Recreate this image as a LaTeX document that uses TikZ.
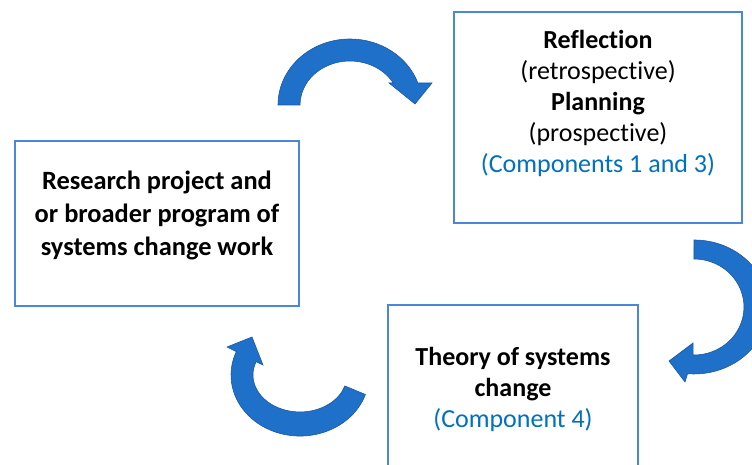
\documentclass[tikz,border=0pt]{standalone}
\usepackage{fontspec}
\setmainfont[Ligatures=NoCommon]{Carlito}
\definecolor{boxblue}{RGB}{74,134,222}
\definecolor{arrowblue}{RGB}{30,112,200}
\definecolor{arrowedge}{RGB}{28,88,165}
\definecolor{compblue}{RGB}{0,112,192}
\tikzstyle{stagebox}=[rectangle, draw=boxblue, line width=1.8pt, fill=white]
\tikzstyle{stagetext}=[align=center, inner sep=0pt]
\tikzstyle{cyclearrow}=[fill=arrowblue, draw=arrowedge, line width=0.6pt, line join=miter]
\newcommand{\comp}[1]{\textcolor{compblue}{#1}}

\begin{document}
\begin{tikzpicture}[x=1pt, y=1pt]
                \useasboundingbox (0,0) rectangle (752,465);
                \clip (0,0) rectangle (752,465);
                % boxes
                \node[stagebox, minimum width=284pt, minimum height=165pt] (proj) at (157, 241.5) {};
                \node[stagebox, minimum width=288pt, minimum height=211pt] (refl) at (598, 347.5) {};
                \node[stagebox, minimum width=250pt, minimum height=168pt] (theo) at (513, 76) {};
                % texts
                \node[stagetext, font=\fontsize{26.4}{33}\selectfont\bfseries] (projt) at (157, 250)
                    {Research project and\\or broader program of\\systems change work};
                \node[stagetext, font=\fontsize{26}{31}\selectfont] (reflt) at (598, 362)
                    {\textbf{Reflection}\\(retrospective)\\\textbf{Planning}\\(prospective)\\\comp{(Components 1 and 3)}};
                \node[stagetext, font=\fontsize{26}{31}\selectfont] (theot) at (513, 76)
                    {\textbf{Theory of systems}\\\textbf{change}\\\comp{(Component 4)}};
                % curved arrows
                \draw[cyclearrow] (278,360) arc[start angle=180, end angle=19.5, x radius=72, y radius=66]
                    -- (432,382) -- (415,361) -- (389,382) -- (393.3,382)
                    arc[start angle=30, end angle=180, x radius=50, y radius=44] -- cycle;
                \draw[cyclearrow] (694,225) arc[start angle=90, end angle=-95, x radius=74, y radius=67]
                    -- (685,83) -- (669,104) -- (693,122) -- (693.1,110)
                    arc[start angle=-91, end angle=90, x radius=50, y radius=48] -- cycle;
                \draw[cyclearrow] (365.4,70.5) arc[start angle=-18.6, end angle=-202.6, x radius=69, y radius=61]
                    -- (227,118) -- (252,128) -- (263,100) -- (256.1,103.3)
                    arc[start angle=-201, end angle=-17.3, x radius=47, y radius=37] -- cycle;
\end{tikzpicture}
\end{document}
